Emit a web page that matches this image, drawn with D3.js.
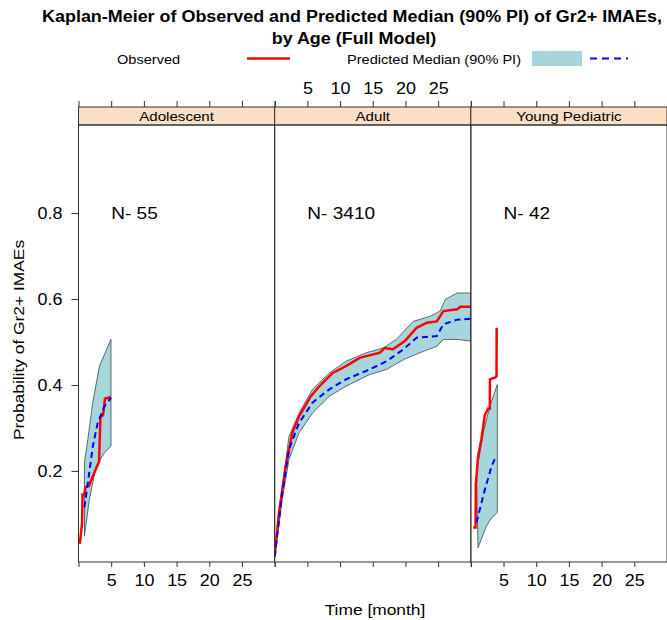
<!DOCTYPE html>
<html>
<head>
<meta charset="utf-8">
<script src="https://cdn.jsdelivr.net/npm/d3@7"></script>
<style>
  body { margin: 0; background: #fff; }
  text { font-family: "Liberation Sans", Arial, Helvetica, sans-serif; fill: #000; }
</style>
</head>
<body>
<svg id="chart" width="667" height="620"></svg>
<script>
// ---- data ----------------------------------------------------------------
const panels = ["Adolescent", "Adult", "Young Pediatric"];
const nSubjects = [55, 3410, 42];
const xTicks = [0, 5, 10, 15, 20, 25, 30];
const xTickLabels = [5, 10, 15, 20, 25];
const yTicks = [0.2, 0.4, 0.6, 0.8];

// Kaplan-Meier observed curves: [month, probability]
const observedAdolescent = [
  [0.2, 0.03], [0.55, 0.08], [0.62, 0.145], [0.9, 0.145], [1.05, 0.162], [1.6, 0.165],
  [2.4, 0.195], [3.15, 0.222], [3.35, 0.325], [3.75, 0.33], [4.05, 0.368], [4.95, 0.372]
];
const observedAdult = [
  [0, 0.002], [0.66, 0.103], [1.69, 0.211], [2.71, 0.289], [3.74, 0.327], [5.54, 0.374],
  [6.82, 0.397], [8.87, 0.428], [10.9, 0.444], [13.0, 0.463], [16.1, 0.475], [16.8, 0.486],
  [18.1, 0.483], [19.9, 0.502], [21.7, 0.533], [23.3, 0.545], [24.8, 0.548], [25.8, 0.572],
  [27.9, 0.576], [28.4, 0.582], [30, 0.582]
];
const observedYoung = [
  [0.36, 0.068], [0.72, 0.068], [0.77, 0.17], [1.12, 0.235], [1.63, 0.275], [2.14, 0.33],
  [2.65, 0.345], [2.9, 0.345], [2.92, 0.413], [3.67, 0.417], [3.93, 0.42], [3.95, 0.533]
];

// Predicted median curves
const medianAdolescent = [
  [0.91, 0.115], [2.2, 0.258], [2.94, 0.312], [3.96, 0.35], [4.97, 0.37]
];
const medianAdult = [
  [0, 0], [1.17, 0.149], [2.2, 0.25], [3.74, 0.312], [5.8, 0.359], [8.37, 0.39],
  [10.9, 0.413], [14.5, 0.436], [17.1, 0.455], [19.7, 0.483], [21.7, 0.51], [24.8, 0.514],
  [25.8, 0.541], [27.9, 0.552], [30, 0.554]
];
const medianYoung = [
  [0.87, 0.08], [2.15, 0.157], [3.18, 0.211], [3.85, 0.234]
];

// 90% prediction interval: upper and lower bounds
const upperAdolescent = [
  [0.91, 0.219], [1.42, 0.273], [2.18, 0.359], [3.2, 0.444], [4.97, 0.506]
];
const lowerAdolescent = [
  [0.91, 0.048], [1.67, 0.134], [2.69, 0.211], [3.96, 0.242], [4.97, 0.258]
];
const upperAdult = [
  [0, 0], [1.17, 0.165], [2.2, 0.281], [3.74, 0.335], [5.8, 0.39], [8.37, 0.428],
  [10.9, 0.455], [14.0, 0.475], [16.6, 0.486], [18.6, 0.506], [21.2, 0.548], [23.8, 0.56],
  [25.3, 0.572], [26.1, 0.599], [27.9, 0.614], [30, 0.614]
];
const lowerAdult = [
  [0, 0], [1.17, 0.134], [2.2, 0.227], [3.74, 0.289], [5.8, 0.335], [8.37, 0.374],
  [10.9, 0.397], [14.5, 0.424], [17.1, 0.436], [19.7, 0.459], [22.2, 0.475], [24.8, 0.49],
  [25.8, 0.506], [27.9, 0.506], [30, 0.502]
];
const upperYoung = [
  [0.87, 0.196], [1.9, 0.289], [2.92, 0.351], [4.05, 0.401]
];
const lowerYoung = [
  [1.1, 0.021], [2.4, 0.072], [3.18, 0.091], [4.05, 0.103]
];

const observedSeries = [observedAdolescent, observedAdult, observedYoung];
const medianSeries = [medianAdolescent, medianAdult, medianYoung];
const upperSeries = [upperAdolescent, upperAdult, upperYoung];
const lowerSeries = [lowerAdolescent, lowerAdult, lowerYoung];

// ---- layout ----------------------------------------------------------------
const svg = d3.select("#chart");
const panelLeft = 78.5, panelRight = 667, panelTop = 125, panelBottom = 562;
const stripTop = 107;
const panelW = (panelRight - panelLeft) / panels.length;
const textWiden = 1.12;   // glyphs are drawn slightly wide

const colObs = "#ff0000", colMed = "#0000ff", colBand = "#a6d6dc", colAxis = "#333";
const y = d3.scaleLinear().domain([-0.012, 1.005]).range([panelBottom, panelTop]);

// title
svg.append("text").attr("x", 352).attr("y", 22).attr("text-anchor", "middle")
  .style("font-weight", "bold").style("font-size", "16px")
  .text("Kaplan-Meier of Observed and Predicted Median (90% PI) of Gr2+ IMAEs,");
svg.append("text").attr("x", 354).attr("y", 44).attr("text-anchor", "middle")
  .style("font-weight", "bold").style("font-size", "16px")
  .text("by Age (Full Model)");

// legend
const key = svg.append("g");
key.append("text").attr("x", 117).attr("y", 63.5).style("font-size", "13px").text("Observed");
key.append("line").attr("x1", 247).attr("x2", 290).attr("y1", 58.5).attr("y2", 58.5)
  .attr("stroke", colObs).attr("stroke-width", 2.5);
key.append("text").attr("x", 347).attr("y", 63.5).style("font-size", "13px").text("Predicted Median (90% PI)");
key.append("rect").attr("x", 532).attr("y", 51).attr("width", 50).attr("height", 15)
  .attr("fill", colBand);
key.append("line").attr("x1", 590).attr("x2", 628).attr("y1", 58.5).attr("y2", 58.5)
  .attr("stroke", colMed).attr("stroke-width", 2).attr("stroke-dasharray", "7,5");

const defs = svg.append("defs");

panels.forEach((name, i) => {
  const x0 = panelLeft + i * panelW, x1 = x0 + panelW;
  const x = d3.scaleLinear().domain([0, 30]).range([x0, x1]);
  const g = svg.append("g");

  // strip
  g.append("rect").attr("x", x0).attr("y", stripTop).attr("width", panelW)
    .attr("height", panelTop - stripTop).attr("fill", "#f9dfc3")
    .attr("stroke", colAxis).attr("stroke-width", 1);
  g.append("text").attr("x", (x0 + x1) / 2).attr("y", panelTop - 4.5)
    .attr("text-anchor", "middle").style("font-size", "13.5px").text(name);

  // clipped plotting area
  defs.append("clipPath").attr("id", "clip" + i).append("rect")
    .attr("x", x0).attr("y", panelTop).attr("width", panelW).attr("height", panelBottom - panelTop);
  const plot = g.append("g").attr("clip-path", `url(#clip${i})`);

  const line = d3.line().x(d => x(d[0])).y(d => y(d[1]));
  const band = upperSeries[i].concat(lowerSeries[i].slice().reverse());
  plot.append("path").attr("d", line(band) + "Z")
    .attr("fill", colBand).attr("stroke", "#3a4a4a").attr("stroke-width", 0.8);
  plot.append("path").attr("d", line(observedSeries[i]))
    .attr("fill", "none").attr("stroke", colObs).attr("stroke-width", 2.5);
  plot.append("path").attr("d", line(medianSeries[i]))
    .attr("fill", "none").attr("stroke", colMed).attr("stroke-width", 2)
    .attr("stroke-dasharray", "6,4");

  // N label
  g.append("text").attr("x", x(5)).attr("y", 219).style("font-size", "17px")
    .text("N- " + nSubjects[i]);

  // panel frame
  g.append("rect").attr("x", x0).attr("y", panelTop).attr("width", panelW)
    .attr("height", panelBottom - panelTop).attr("fill", "none")
    .attr("stroke", colAxis).attr("stroke-width", 1);

  // bottom axis (labels on outer panels), top axis (labels on middle panel)
  const bottom = d3.axisBottom(x).tickValues(xTicks).tickSize(5).tickPadding(8)
    .tickFormat(d => (i !== 1 && xTickLabels.includes(d)) ? d : "");
  const ba = g.append("g").attr("transform", `translate(0,${panelBottom})`).call(bottom);
  const top = d3.axisTop(x).tickValues(xTicks).tickSize(6).tickPadding(7)
    .tickFormat(d => (i === 1 && xTickLabels.includes(d)) ? d : "");
  const ta = g.append("g").attr("transform", `translate(0,${stripTop})`).call(top);
  [ba, ta].forEach(a => {
    a.select(".domain").remove();
    a.selectAll("line").attr("stroke", colAxis);
    a.selectAll("text").style("font-size", "16px").attr("fill", "#000")
      .style("font-family", '"Liberation Sans", Arial, sans-serif');
  });
});

// left axis
const left = d3.axisLeft(y).tickValues(yTicks).tickSize(7).tickPadding(9).tickFormat(d3.format(".1f"));
const la = svg.append("g").attr("transform", `translate(${panelLeft},0)`).call(left);
la.select(".domain").remove();
la.selectAll("line").attr("stroke", colAxis);
la.selectAll("text").style("font-size", "16px").attr("fill", "#000")
  .style("font-family", '"Liberation Sans", Arial, sans-serif');

// axis titles
svg.append("text").attr("x", 375).attr("y", 615).attr("text-anchor", "middle")
  .style("font-size", "15.5px").text("Time [month]");
svg.append("text").attr("transform", "translate(24,340) rotate(-90)").attr("text-anchor", "middle")
  .style("font-size", "15.5px").text("Probability of Gr2+ IMAEs");

// widen every label's glyphs a little, keeping its anchor
svg.selectAll("text").each(function () {
  const w = this.getComputedTextLength();
  if (w > 0) d3.select(this).attr("textLength", w * textWiden).attr("lengthAdjust", "spacingAndGlyphs");
});
</script>
</body>
</html>
